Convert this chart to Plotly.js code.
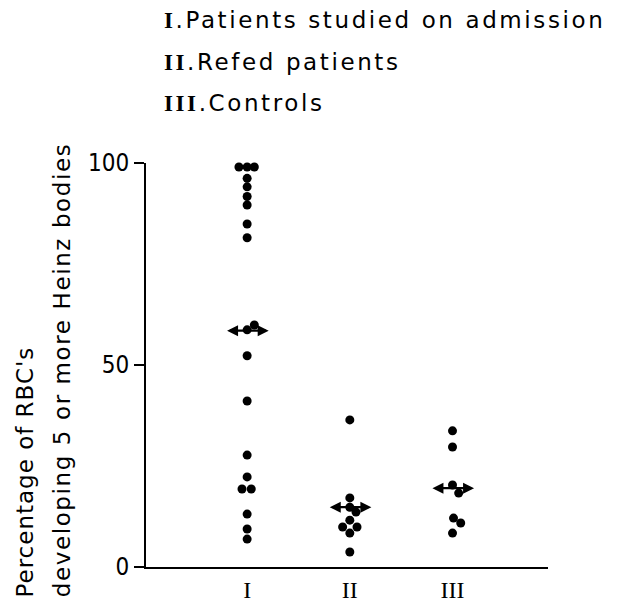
<!DOCTYPE html>
<html>
<head>
<meta charset="utf-8">
<script src="https://cdn.plot.ly/plotly-3.0.1.min.js"></script>
<style>html,body{margin:0;padding:0;background:#fff;}</style>
</head>
<body>
<div id="chart" style="width:628px;height:605px;"></div>
<script>
// Categories and tick labels
var categories = [1, 2, 3];
var tickLabels = ["I", "II", "III"];
var legendNames = ["Patients studied on admission", "Refed patients", "Controls"];

// Values (% of RBC's developing 5 or more Heinz bodies)
var groupI   = [99, 99, 99, 96.2, 94.1, 91.7, 89.6, 84.9, 81.5, 59.9, 58.7, 52.3, 41.1, 27.7, 22.3, 19.3, 19.3, 13.1, 9.4, 6.9];
var groupII  = [36.4, 17.1, 14.8, 13.6, 11.6, 9.9, 9.9, 8.4, 3.7];
var groupIII = [33.7, 29.7, 20.3, 18.3, 12.1, 10.9, 8.4];
// Mean markers (double-headed arrows)
var means = [58.5, 14.8, 19.5];

// Horizontal spread of overlapping dots (layout only)
var spreadI   = [-0.08, 0, 0.07, 0, 0, 0, 0, 0, 0, 0.07, 0, 0, 0, 0, 0, -0.05, 0.04, 0, 0, 0];
var spreadII  = [0, 0, 0, 0.06, 0, -0.07, 0.07, 0, 0];
var spreadIII = [0, 0, 0, 0.06, 0.01, 0.08, 0];

function xs(cat, spread) { return spread.map(function (d) { return cat + d; }); }

var groups = [groupI, groupII, groupIII];
var spreads = [spreadI, spreadII, spreadIII];
var traces = groups.map(function (g, i) {
  return {
    type: 'scatter', mode: 'markers',
    x: xs(categories[i], spreads[i]), y: g,
    marker: {color: '#000', size: 9},
    cliponaxis: false, showlegend: false, hoverinfo: 'y'
  };
});

var annotations = [];
means.forEach(function (m, i) {
  annotations.push({
    x: categories[i] + 0.21, y: m, xref: 'x', yref: 'y',
    ax: categories[i] - 0.21, ay: m, axref: 'x', ayref: 'y',
    text: '', showarrow: true, arrowhead: 2, arrowside: 'end+start',
    arrowsize: 1, arrowwidth: 2.2, arrowcolor: '#000'
  });
});

var legY = [1.354, 1.25, 1.149];
var legendPlain = [];
legendNames.forEach(function (t, i) {
  legendPlain.push(tickLabels[i] + '.' + t);
  annotations.push({
    text: '<span style="font-family:Liberation Serif;font-weight:bold">' + tickLabels[i] + '</span>.' + t,
    xref: 'paper', yref: 'paper', x: 0.04, y: legY[i],
    xanchor: 'left', yanchor: 'middle', showarrow: false,
    font: {family: 'DejaVu Sans', size: 23, color: '#000'}
  });
});

annotations.push({
  text: "Percentage of RBC's", xref: 'paper', yref: 'paper', x: -0.301, y: 0.235,
  xanchor: 'center', yanchor: 'middle', textangle: -90, showarrow: false,
  font: {family: 'DejaVu Sans', size: 23, color: '#000'}
});
annotations.push({
  text: "developing 5 or more Heinz bodies", xref: 'paper', yref: 'paper', x: -0.209, y: 0.488,
  xanchor: 'center', yanchor: 'middle', textangle: -90, showarrow: false,
  font: {family: 'DejaVu Sans', size: 23, color: '#000'}
});

var layout = {
  width: 628, height: 605,
  margin: {l: 146, r: 80, t: 163, b: 38},
  paper_bgcolor: '#fff', plot_bgcolor: '#fff',
  showlegend: false,
  xaxis: {
    range: [0.015, 3.93], tickvals: categories, ticktext: tickLabels,
    showgrid: false, zeroline: false, showline: true, linecolor: '#000', linewidth: 2,
    ticks: '', tickfont: {family: 'Liberation Serif', size: 24, color: '#000'}
  },
  yaxis: {
    range: [0, 100], tickvals: [0, 50, 100],
    showgrid: false, zeroline: false, showline: true, linecolor: '#000', linewidth: 2,
    ticks: 'outside', ticklen: 10, tickwidth: 2, tickcolor: '#000',
    tickfont: {family: 'Liberation Sans Narrow, DejaVu Sans Condensed, sans-serif', size: 24, color: '#000'}
  },
  annotations: annotations
};

Plotly.newPlot('chart', traces, layout, {displayModeBar: false, staticPlot: true}).then(function () {
  var texts = document.querySelectorAll('#chart .annotation-text');
  texts.forEach(function (el) {
    var t = el.textContent;
    if (legendPlain.indexOf(t) >= 0) {
      // keep left edge fixed: measure before spacing, then anchor at start
      var bb = el.getBBox();
      el.setAttribute('text-anchor', 'start');
      el.setAttribute('x', bb.x);
      el.style.letterSpacing = '2.6px';
    } else if (t.indexOf('developing') === 0) {
      el.style.letterSpacing = '1.6px';
    } else if (t.indexOf('Percentage') === 0) {
      el.style.letterSpacing = '1.0px';
    }
  });
});
</script>
</body>
</html>
